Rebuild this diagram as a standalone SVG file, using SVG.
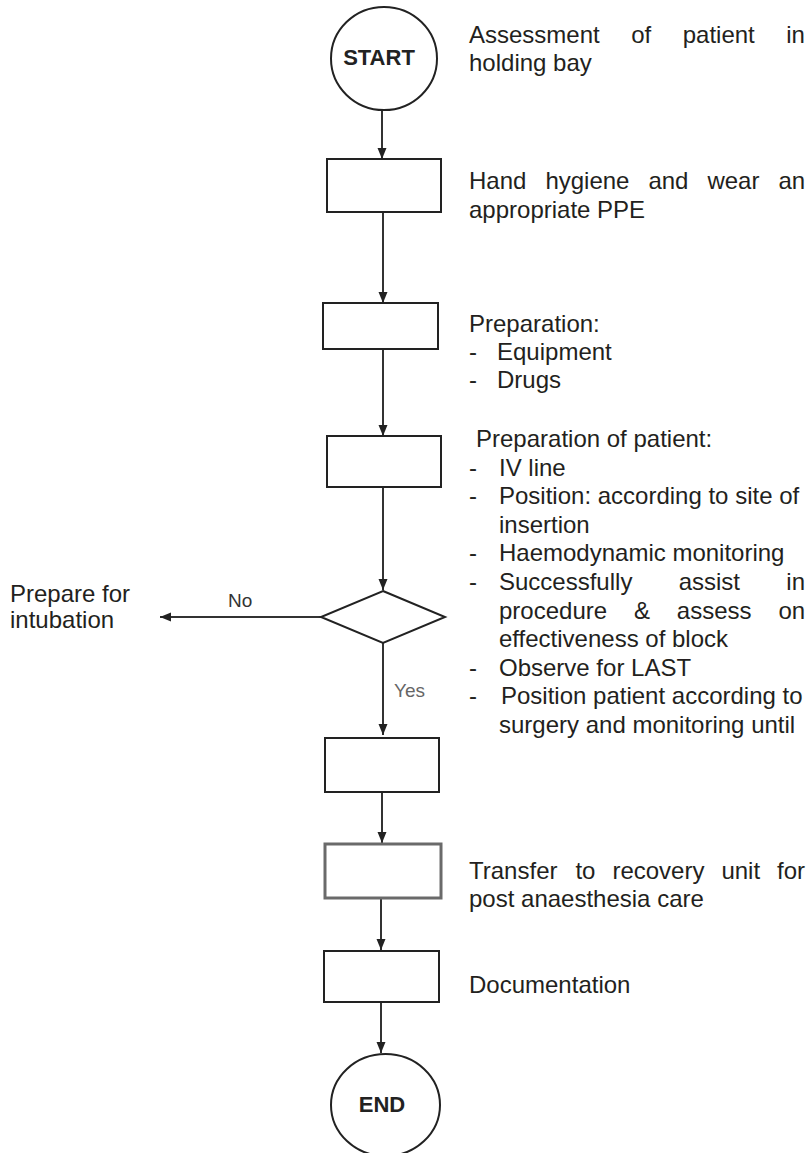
<svg xmlns="http://www.w3.org/2000/svg" width="809" height="1153" viewBox="0 0 809 1153">
<style>
  .shape { fill: #ffffff; stroke: #222222; stroke-width: 2; }
  .shape-gray { fill: #ffffff; stroke: #6a6a6a; stroke-width: 3; }
  .conn { stroke: #333333; stroke-width: 2; fill: none; marker-end: url(#ah); }
  .txt { font-family: "Liberation Sans", Arial, sans-serif; font-size: 24px; fill: #231f20; }
  .term { font-family: "Liberation Sans", Arial, sans-serif; font-size: 22px; font-weight: bold; fill: #222222; text-anchor: middle; }
  .lbl { font-family: "Liberation Sans", Arial, sans-serif; font-size: 19px; fill: #333333; }
</style>
<defs>
  <marker id="ah" markerUnits="userSpaceOnUse" markerWidth="11" markerHeight="9" refX="11" refY="4.5" orient="auto" overflow="visible">
    <path d="M0,0 L11,4.5 L0,9 z" fill="#222222"/>
  </marker>
</defs>
<rect width="809" height="1153" fill="#ffffff"/>

<g id="connectors">
  <line class="conn" x1="382" y1="110" x2="382" y2="159"/>
  <line class="conn" x1="383" y1="212" x2="383" y2="303"/>
  <line class="conn" x1="383" y1="349" x2="383" y2="436"/>
  <line class="conn" x1="383" y1="487" x2="383" y2="590"/>
  <line class="conn" x1="383" y1="643" x2="383" y2="735"/>
  <line class="conn" x1="321" y1="617" x2="160" y2="617"/>
  <line class="conn" x1="382" y1="792" x2="382" y2="843"/>
  <line class="conn" x1="381" y1="898" x2="381" y2="950"/>
  <line class="conn" x1="381" y1="1002" x2="381" y2="1053"/>
  <text class="lbl" x="228" y="607">No</text>
  <text class="lbl" x="394" y="697" style="fill:#666666">Yes</text>
</g>

<g id="start">
  <ellipse class="shape" cx="384" cy="58.5" rx="53" ry="51.5"/>
  <text class="term" x="379" y="65">START</text>
</g>

<g id="step-hand-hygiene">
  <rect class="shape" x="327" y="159" width="114" height="53"/>
</g>

<g id="step-preparation">
  <rect class="shape" x="323" y="303" width="115" height="46"/>
</g>

<g id="step-prep-patient">
  <rect class="shape" x="327" y="436" width="114" height="51"/>
</g>

<g id="decision">
  <polygon class="shape" points="383,591 445,617 383,643 321,617"/>
</g>

<g id="step-after-yes">
  <rect class="shape" x="325" y="738" width="114" height="54"/>
</g>

<g id="step-transfer">
  <rect class="shape-gray" x="325" y="844" width="116" height="54"/>
</g>

<g id="step-documentation">
  <rect class="shape" x="324" y="951" width="115" height="51"/>
</g>

<g id="end">
  <ellipse class="shape" cx="385.5" cy="1105" rx="54.5" ry="51"/>
  <text class="term" x="382" y="1112">END</text>
</g>

<g id="prepare-intubation">
  <text class="txt" x="10" y="602">Prepare for</text>
  <text class="txt" x="10" y="628">intubation</text>
</g>

<g id="note-assessment">
  <text class="txt" y="43"><tspan x="469">Assessment</tspan><tspan x="631.2">of</tspan><tspan x="682.7">patient</tspan><tspan x="786.2">in</tspan></text>
  <text class="txt" x="469" y="71">holding bay</text>
</g>

<g id="note-hand-hygiene">
  <text class="txt" y="189"><tspan x="469">Hand</tspan><tspan x="545.4">hygiene</tspan><tspan x="648.4">and</tspan><tspan x="707.4">wear</tspan><tspan x="778.4">an</tspan></text>
  <text class="txt" x="469" y="218">appropriate PPE</text>
</g>

<g id="note-preparation">
  <text class="txt" x="469" y="332">Preparation:</text>
  <text class="txt" x="469" y="360">-</text><text class="txt" x="497" y="360">Equipment</text>
  <text class="txt" x="469" y="388">-</text><text class="txt" x="497" y="388">Drugs</text>
</g>

<g id="note-prep-patient">
  <text class="txt" x="476" y="447">Preparation of patient:</text>
  <text class="txt" x="469" y="475.6">-</text><text class="txt" x="499" y="475.6">IV line</text>
  <text class="txt" x="469" y="504.2">-</text><text class="txt" x="499" y="504.2">Position: according to site of</text>
  <text class="txt" x="499" y="532.8">insertion</text>
  <text class="txt" x="469" y="561.4">-</text><text class="txt" x="499" y="561.4">Haemodynamic monitoring</text>
  <text class="txt" x="469" y="590">-</text><text class="txt" y="590"><tspan x="499">Successfully</tspan><tspan x="678.7">assist</tspan><tspan x="786.3">in</tspan></text>
  <text class="txt" y="618.6"><tspan x="499">procedure</tspan><tspan x="633.9">&amp;</tspan><tspan x="676.8">assess</tspan><tspan x="778.4">on</tspan></text>
  <text class="txt" x="499" y="647.2">effectiveness of block</text>
  <text class="txt" x="469" y="675.8">-</text><text class="txt" x="499" y="675.8">Observe for LAST</text>
  <text class="txt" x="469" y="704.4">-</text><text class="txt" x="501" y="704.4">Position patient according to</text>
  <text class="txt" x="499" y="733">surgery and monitoring until</text>
</g>

<g id="note-transfer">
  <text class="txt" y="879"><tspan x="469">Transfer</tspan><tspan x="575.4">to</tspan><tspan x="612.4">recovery</tspan><tspan x="721.4">unit</tspan><tspan x="777.1">for</tspan></text>
  <text class="txt" x="469" y="907">post anaesthesia care</text>
</g>

<g id="note-documentation">
  <text class="txt" x="469" y="993">Documentation</text>
</g>
</svg>
